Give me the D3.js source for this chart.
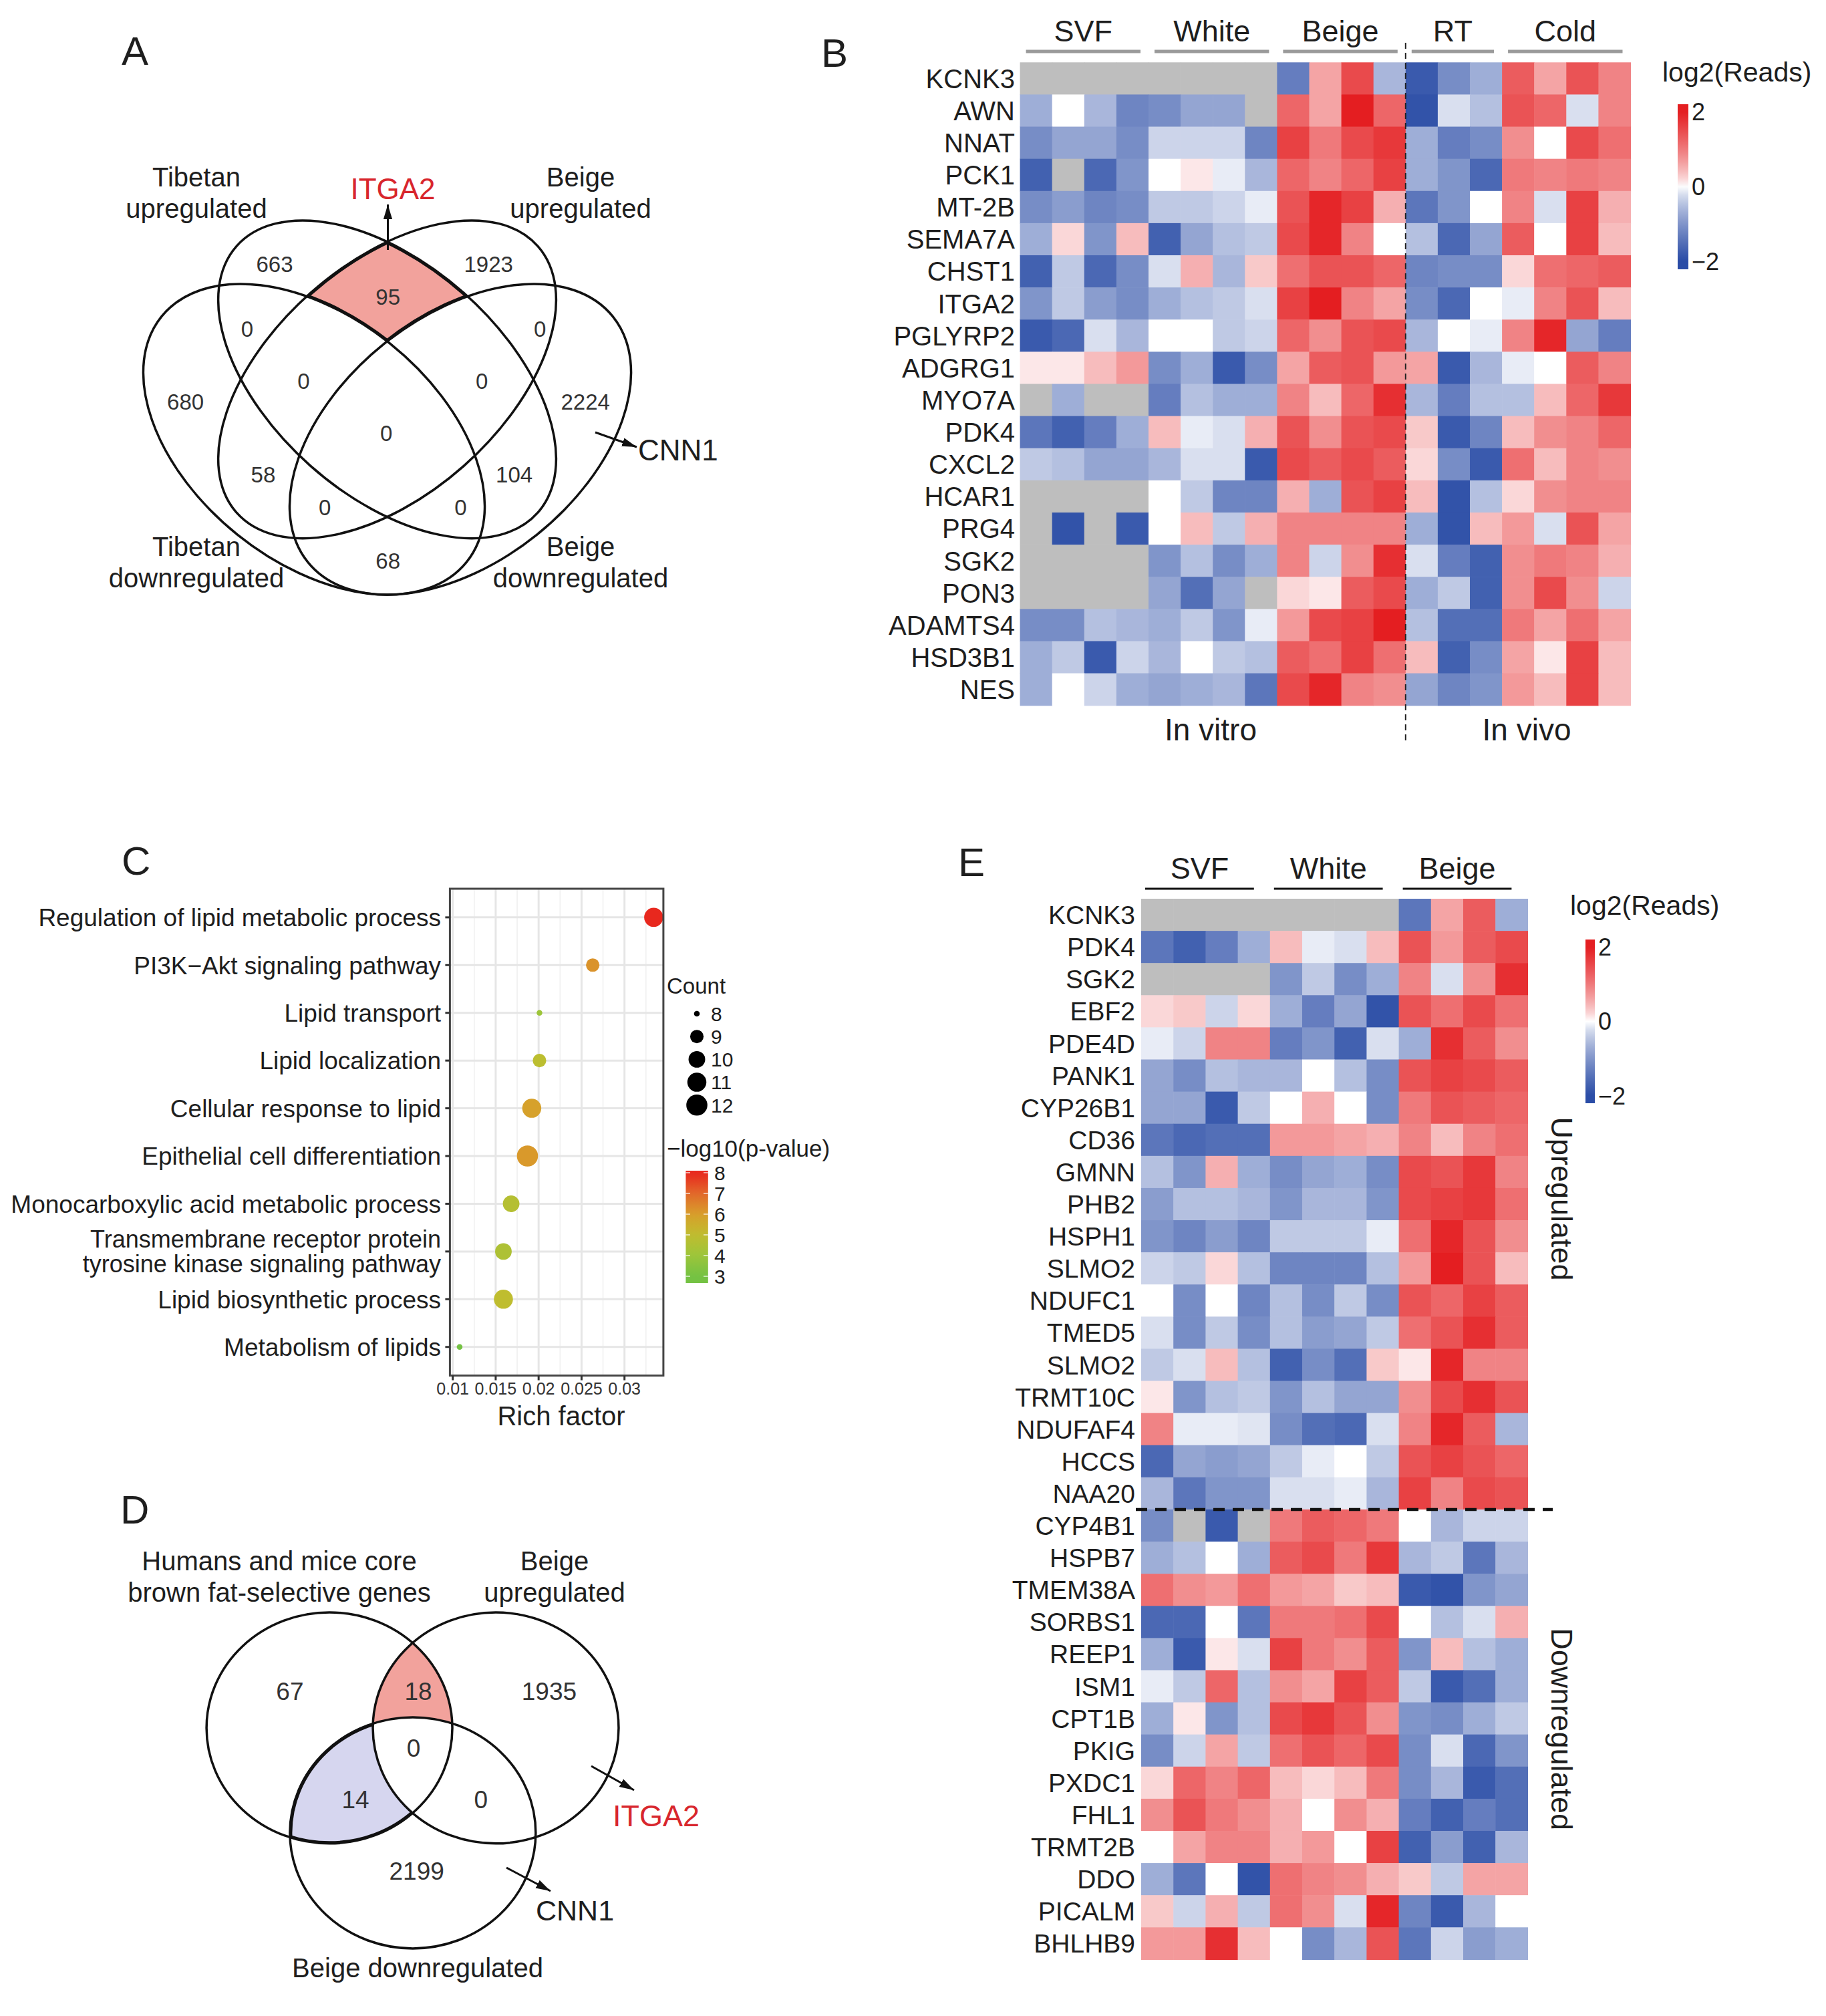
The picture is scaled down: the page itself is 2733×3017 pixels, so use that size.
<!DOCTYPE html>
<html><head><meta charset="utf-8">
<script src="https://cdn.jsdelivr.net/npm/d3@7"></script>
<style>body{margin:0;background:#fff} svg{display:block}</style>
</head><body><script>
// ===================== DATA =====================
// Panel A : four-set Venn (A = Tibetan down, B = Tibetan up, C = Beige up, D = Beige down)
const vennASetLabels = [["Tibetan","upregulated"],["Beige","upregulated"],["Tibetan","downregulated"],["Beige","downregulated"]];
const vennARegionSets = ["B","BC","C","AB","CD","ABC","BCD","A","ABCD","D","AC","BD","ACD","ABD","AD"];
const vennACounts     = [663, 95, 1923, 0, 0, 0, 0, 680, 0, 2224, 58, 104, 0, 0, 68];
const vennANotes = ["ITGA2","CNN1"];

// Panel D : three-set Venn (1 = core brown fat genes, 2 = Beige up, 3 = Beige down)
const vennDSetLabels = [["Humans and mice core","brown fat-selective genes"],["Beige","upregulated"],["Beige downregulated"]];
const vennDRegionSets = ["1","12","2","123","13","23","3"];
const vennDCounts     = [67, 18, 1935, 0, 14, 0, 2199];
const vennDNotes = ["ITGA2","CNN1"];

// Panel C : enrichment dot plot
const goTerms = ["Regulation of lipid metabolic process","PI3K\u2212Akt signaling pathway","Lipid transport","Lipid localization",
  "Cellular response to lipid","Epithelial cell differentiation","Monocarboxylic acid metabolic process",
  "Transmembrane receptor protein\ntyrosine kinase signaling pathway","Lipid biosynthetic process","Metabolism of lipids"];
const richFactor = [0.0334, 0.0263, 0.0201, 0.0201, 0.0192, 0.0187, 0.0168, 0.0159, 0.0159, 0.0108];
const geneCount  = [11, 9, 8, 9, 11, 12, 10, 10, 11, 8];
const negLogP    = [8.1, 6.2, 4.0, 4.9, 5.9, 6.1, 4.7, 4.5, 5.0, 2.7];
const richTicks  = [0.01, 0.015, 0.02, 0.025, 0.03];
const richTickLabels = ["0.01","0.015","0.02","0.025","0.03"];
const countBreaks = [8, 9, 10, 11, 12];
const pBreaks = [8, 7, 6, 5, 4, 3];

// Panel B : heatmap (null = not detected)
const genesB = ["KCNK3","AWN","NNAT","PCK1","MT-2B","SEMA7A","CHST1","ITGA2","PGLYRP2","ADGRG1",
  "MYO7A","PDK4","CXCL2","HCAR1","PRG4","SGK2","PON3","ADAMTS4","HSD3B1","NES"];
const groupsB = ["SVF","White","Beige","RT","Cold"];
const groupSizesB = [4, 4, 4, 3, 4];
const conditionsB = ["In vitro","In vivo"];
const valuesB = [
 [null,null,null,null, null,null,null,null, -1.3,0.6,1.5,-0.6, -1.8,-1.1,-0.7, 1.3,0.6,1.4,0.9],
 [-0.7,0,-0.6,-1.2, -1.1,-0.8,-0.8,null, 1.2,0.6,2.0,1.2, -1.9,-0.2,-0.5, 1.4,1.2,-0.2,0.9],
 [-1.1,-0.8,-0.8,-1.1, -0.3,-0.3,-0.3,-1.2, 1.6,1.0,1.5,1.7, -0.7,-1.3,-1.1, 0.8,0,1.5,1.1],
 [-1.7,null,-1.6,-1.0, 0,0.1,-0.1,-0.6, 1.2,0.9,1.2,1.6, -0.7,-1.0,-1.6, 1.0,0.9,1.0,0.9],
 [-1.1,-0.9,-1.2,-1.1, -0.4,-0.4,-0.3,-0.1, 1.4,1.9,1.6,0.5, -1.4,-1.0,0, 0.9,-0.2,1.6,0.5],
 [-0.7,0.2,-1.0,0.4, -1.7,-0.8,-0.5,-0.4, 1.5,1.9,0.9,0, -0.5,-1.6,-0.8, 1.3,0,1.6,0.4],
 [-1.7,-0.4,-1.6,-1.1, -0.2,0.5,-0.6,0.3, 1.1,1.4,1.4,1.2, -1.2,-1.1,-1.1, 0.2,1.1,1.2,1.3],
 [-1.0,-0.4,-0.9,-1.1, -0.7,-0.5,-0.4,-0.2, 1.6,2.0,0.9,0.6, -1.1,-1.6,0, -0.1,0.9,1.4,0.4],
 [-1.8,-1.6,-0.2,-0.6, 0,0,-0.4,-0.3, 1.2,0.8,1.4,1.5, -0.6,0,-0.1, 0.9,1.9,-0.8,-1.3],
 [0.1,0.1,0.4,0.7, -1.1,-0.7,-1.8,-1.1, 0.6,1.3,1.4,0.7, 0.6,-1.8,-0.6, -0.1,0,1.3,0.9],
 [null,-0.7,null,null, -1.3,-0.5,-0.7,-0.7, 0.9,0.4,1.2,1.8, -0.6,-1.3,-0.5, -0.5,0.4,1.2,1.7],
 [-1.4,-1.7,-1.3,-0.7, 0.4,-0.1,-0.2,0.5, 1.4,0.8,1.4,1.5, 0.3,-1.8,-1.2, 0.4,0.8,0.9,1.2],
 [-0.4,-0.5,-0.8,-0.8, -0.6,-0.2,-0.2,-1.8, 1.5,1.3,1.5,1.3, 0.2,-1.1,-1.8, 1.1,0.4,0.9,0.8],
 [null,null,null,null, 0,-0.4,-1.2,-1.2, 0.5,-0.7,1.4,1.6, 0.4,-1.9,-0.5, 0.2,0.8,0.9,0.9],
 [null,-1.9,null,-1.8, 0,0.4,-0.4,0.5, 0.9,0.9,0.9,0.9, -0.7,-1.9,0.4, 0.7,-0.2,1.4,0.6],
 [null,null,null,null, -1.0,-0.5,-1.1,-0.7, 0.9,-0.3,0.8,1.8, -0.2,-1.3,-1.7, 0.8,1.0,0.9,0.5],
 [null,null,null,null, -0.8,-1.5,-0.8,null, 0.2,0.1,1.3,1.5, -0.7,-0.4,-1.7, 0.8,1.5,0.8,-0.3],
 [-1.1,-1.1,-0.5,-0.6, -0.7,-0.4,-1.0,-0.1, 0.7,1.5,1.6,2.0, -0.5,-1.5,-1.5, 1.0,0.6,1.1,0.6],
 [-0.7,-0.4,-1.8,-0.3, -0.6,0,-0.4,-0.5, 1.3,1.1,1.6,1.1, 0.4,-1.7,-1.1, 0.6,0.1,1.6,0.4],
 [-0.7,0,-0.3,-0.7, -0.8,-0.7,-0.6,-1.4, 1.5,1.9,0.9,0.8, -0.8,-1.2,-1.0, 0.7,0.4,1.6,0.4]
];

// Panel E : heatmap
const genesE = ["KCNK3","PDK4","SGK2","EBF2","PDE4D","PANK1","CYP26B1","CD36","GMNN","PHB2","HSPH1","SLMO2",
  "NDUFC1","TMED5","SLMO2","TRMT10C","NDUFAF4","HCCS","NAA20",
  "CYP4B1","HSPB7","TMEM38A","SORBS1","REEP1","ISM1","CPT1B","PKIG","PXDC1","FHL1","TRMT2B","DDO","PICALM","BHLHB9"];
const groupsE = ["SVF","White","Beige"];
const groupSizesE = [4, 4, 4];
const directionE = ["Upregulated","Downregulated"];
const directionSizesE = [19, 14];
const valuesE = [
 [null,null,null,null, null,null,null,null, -1.4,0.6,1.3,-0.7],
 [-1.4,-1.7,-1.3,-0.7, 0.4,-0.1,-0.2,0.4, 1.4,0.7,1.3,1.5],
 [null,null,null,null, -1.0,-0.4,-1.1,-0.7, 0.9,-0.2,0.8,1.8],
 [0.2,0.3,-0.3,0.2, -0.7,-1.3,-0.8,-1.9, 1.4,1.1,1.5,1.1],
 [-0.1,-0.3,0.9,0.9, -1.3,-1.0,-1.7,-0.2, -0.7,1.8,1.3,0.8],
 [-0.8,-1.1,-0.5,-0.6, -0.6,0,-0.5,-1.1, 1.4,1.6,1.5,1.3],
 [-0.8,-0.8,-1.8,-0.4, 0,0.5,0,-1.1, 1.0,1.4,1.3,1.2],
 [-1.4,-1.6,-1.5,-1.5, 0.7,0.7,0.6,0.5, 0.9,0.4,0.9,1.1],
 [-0.5,-1.0,0.5,-0.7, -1.1,-0.8,-0.7,-1.1, 1.5,1.4,1.7,0.9],
 [-0.9,-0.5,-0.5,-0.6, -1.0,-0.6,-0.6,-1.0, 1.5,1.6,1.7,1.1],
 [-1.0,-1.2,-0.9,-1.2, -0.4,-0.4,-0.4,-0.1, 1.1,1.9,1.4,0.8],
 [-0.3,-0.4,0.2,-0.5, -1.2,-1.2,-1.2,-0.5, 0.7,2.0,1.4,0.4],
 [0,-1.1,0,-1.2, -0.5,-1.1,-0.4,-1.1, 1.4,1.2,1.6,1.3],
 [-0.2,-1.1,-0.4,-1.1, -0.5,-0.9,-0.8,-0.4, 1.1,1.4,1.8,1.3],
 [-0.4,-0.2,0.4,-0.5, -1.7,-1.1,-1.5,0.3, 0.1,1.9,0.9,0.9],
 [0.1,-1.0,-0.5,-0.4, -1.0,-0.5,-0.8,-0.8, 0.8,1.5,1.8,1.4],
 [0.9,-0.1,-0.1,-0.15, -1.1,-1.5,-1.6,-0.2, 0.9,1.9,1.3,-0.6],
 [-1.6,-0.8,-0.9,-0.8, -0.4,-0.1,0,-0.4, 1.4,1.6,1.4,1.2],
 [-0.6,-1.4,-1.0,-1.0, -0.2,-0.2,-0.1,-0.6, 1.6,0.9,1.5,1.4],
 [-1.1,null,-1.8,null, 1.0,1.3,1.2,1.0, 0,-0.6,-0.3,-0.3],
 [-0.7,-0.5,0,-0.7, 1.3,1.5,1.0,1.7, -0.6,-0.4,-1.4,-0.6],
 [1.1,0.8,0.7,1.1, 0.7,0.6,0.3,0.4, -1.8,-1.9,-1.0,-0.8],
 [-1.6,-1.6,0,-1.4, 1.0,1.0,1.1,1.5, 0,-0.5,-0.2,0.5],
 [-0.7,-1.8,0.1,-0.2, 1.6,1.0,0.8,1.3, -1.0,0.4,-0.5,-0.7],
 [-0.1,-0.4,1.2,-0.5, 0.8,0.6,1.6,1.3, -0.4,-1.8,-1.5,-0.7],
 [-0.7,0.1,-1.0,-0.5, 1.5,1.7,1.4,0.8, -1.0,-1.1,-0.7,-0.4],
 [-1.1,-0.3,0.6,-0.4, 1.1,1.4,1.2,1.5, -1.1,-0.2,-1.6,-1.0],
 [0.2,1.2,0.9,1.2, 0.4,0.2,0.4,1.0, -1.1,-0.6,-1.8,-1.5],
 [0.8,1.4,1.0,0.8, 0.5,0,0.8,0.5, -1.3,-1.7,-1.3,-1.5],
 [0,0.6,0.9,0.9, 0.5,0.7,0,1.6, -1.7,-0.9,-1.7,-0.6],
 [-0.7,-1.4,0,-1.9, 1.1,0.9,0.8,0.5, 0.3,-0.4,0.6,0.6],
 [0.3,-0.3,0.5,-0.4, 1.1,0.8,-0.2,1.9, -1.2,-1.8,-0.6,0],
 [0.7,0.7,1.8,0.4, 0,-1.1,-0.6,1.4, -1.4,-0.3,-0.9,-0.7]
];
const heatTicks = [2, 0, -2];
const heatTickLabels = ["2","0","\u22122"];

// ===================== SETUP =====================
const W = 2733, H = 3017;
const FONT = "'Liberation Sans', Arial, Helvetica, sans-serif";
const TXT = "#1e1e1e";
const svg = d3.select("body").append("svg").attr("width", W).attr("height", H).attr("font-family", FONT);
svg.append("rect").attr("width", W).attr("height", H).attr("fill", "#fff");
const defs = svg.append("defs");
defs.append("marker").attr("id","arrow").attr("viewBox","0 0 10 10").attr("refX",10).attr("refY",5)
  .attr("markerWidth",22).attr("markerHeight",22).attr("markerUnits","userSpaceOnUse").attr("orient","auto")
  .append("path").attr("d","M0,2 L10,5 L0,8 Z").attr("fill","#111");

function txt(sel, x, y, s, size, o = {}) {
  const t = sel.append("text").attr("x", x).attr("y", y).attr("font-size", size)
    .attr("fill", o.fill || TXT).attr("text-anchor", o.anchor || "start").text(s);
  if (o.dy) t.attr("dy", o.dy);
  return t;
}
function maskExcluding(id, shapes) {
  const m = defs.append("mask").attr("id", id).attr("maskUnits","userSpaceOnUse")
    .attr("x",0).attr("y",0).attr("width",W).attr("height",H);
  m.append("rect").attr("width",W).attr("height",H).attr("fill","#fff");
  shapes.forEach(f => f(m).attr("fill","#000"));
}
function clipWith(id, shape) { shape(defs.append("clipPath").attr("id", id)); }

// Panel letters
[["A",182,97],["B",1229,100],["C",182,1309],["D",180,2280],["E",1434,1311]]
  .forEach(([l,x,y]) => txt(svg, x, y, l, 60));

// ===================== PANEL A =====================
const AK = 836;
const ax = d3.scaleLinear().domain([0,1]).range([161, 161 + AK]);
const ay = d3.scaleLinear().domain([0,1]).range([1045.8, 1045.8 - AK]);
const ellA = {
  A:{cx:0.3696, cy:0.4645, a:0.3505, b:0.2189, rot:38.8},
  B:{cx:0.5006, cy:0.5718, a:0.3600, b:0.2069, rot:41.5},
  C:{cx:0.5006, cy:0.5718, a:0.3600, b:0.2069, rot:-41.5},
  D:{cx:0.6316, cy:0.4645, a:0.3505, b:0.2189, rot:-38.8}};
const ellAShape = k => sel => sel.append("ellipse").attr("rx", ellA[k].a*AK).attr("ry", ellA[k].b*AK)
  .attr("transform", `translate(${ax(ellA[k].cx)},${ay(ellA[k].cy)}) rotate(${ellA[k].rot})`);
clipWith("clipAB", ellAShape("B"));
clipWith("clipAC", ellAShape("C"));
maskExcluding("maskAnotAD", [ellAShape("A"), ellAShape("D")]);
const gA = svg.append("g");
const hlA = gA.append("g").attr("clip-path","url(#clipAC)").append("g").attr("clip-path","url(#clipAB)")
  .append("g").attr("mask","url(#maskAnotAD)");
hlA.append("rect").attr("x",0).attr("y",0).attr("width",1200).attr("height",1100).attr("fill","#F2A29C");
["A","B","C","D"].forEach(k => ellAShape(k)(hlA).attr("fill","none").attr("stroke","#111").attr("stroke-width",7));
["A","B","C","D"].forEach(k => ellAShape(k)(gA).attr("fill","none").attr("stroke","#111").attr("stroke-width",3.5));

const vennAPos = {B:[0.299,0.778], BC:[0.502,0.720], C:[0.682,0.778], AB:[0.250,0.662], CD:[0.774,0.662],
  ABC:[0.351,0.569], BCD:[0.670,0.569], A:[0.1395,0.5316], ABCD:[0.499,0.476], D:[0.8555,0.5316],
  AC:[0.2786,0.401], BD:[0.728,0.401], ACD:[0.389,0.343], ABD:[0.632,0.343], AD:[0.502,0.247]};
vennARegionSets.forEach((r,i) => txt(gA, ax(vennAPos[r][0]), ay(vennAPos[r][1]), vennACounts[i], 33,
  {anchor:"middle", dy:"0.36em", fill:"#333"}));
const vennALabelPos = [[294,279],[869,279],[294,832],[869,832]];
vennASetLabels.forEach((lines,i) => lines.forEach((l,j) =>
  txt(gA, vennALabelPos[i][0], vennALabelPos[i][1] + j*47, l, 40, {anchor:"middle"})));
gA.append("line").attr("x1",580.5).attr("y1",374).attr("x2",580.5).attr("y2",306)
  .attr("stroke","#111").attr("stroke-width",3).attr("marker-end","url(#arrow)");
txt(gA, 588, 298, vennANotes[0], 44, {anchor:"middle", fill:"#D8262D"});
gA.append("line").attr("x1",891).attr("y1",647).attr("x2",953).attr("y2",669)
  .attr("stroke","#111").attr("stroke-width",3).attr("marker-end","url(#arrow)");
txt(gA, 955, 689, vennANotes[1], 44);

// ===================== PANEL B =====================
const nColB = d3.sum(groupSizesB);
const bx = d3.scaleBand().domain(d3.range(nColB)).range([1526.6, 2440.5]);
const by = d3.scaleBand().domain(d3.range(genesB.length)).range([93.3, 1055.7]);
const heatInterp = d3.piecewise(d3.interpolateRgb, ["#2A4CA6", "#FFFFFF", "#E41E21"]);
const heat = d3.scaleDivergingPow(heatInterp).exponent(0.75).domain([-2, 0, 2]).clamp(true);
const NA = "#BEBEBE";
const gB = svg.append("g");
valuesB.forEach((row,i) => row.forEach((v,j) => gB.append("rect")
  .attr("x", bx(j)).attr("y", by(i)).attr("width", bx.bandwidth()+0.6).attr("height", by.bandwidth()+0.6)
  .attr("fill", v === null ? NA : heat(v))));
genesB.forEach((g,i) => txt(gB, 1519, by(i) + by.bandwidth()/2, g, 40, {anchor:"end", dy:"0.36em"}));
let cum = 0;
groupsB.forEach((g,k) => {
  const x0 = bx(cum), x1 = bx(cum + groupSizesB[k] - 1) + bx.bandwidth();
  cum += groupSizesB[k];
  const b0 = x0 + 9, b1 = x1 - 12;
  gB.append("line").attr("x1",b0).attr("x2",b1).attr("y1",77).attr("y2",77).attr("stroke","#9A9A9A").attr("stroke-width",5);
  txt(gB, (b0+b1)/2, 62, g, 45, {anchor:"middle"});
});
const splitB = bx(12);
gB.append("line").attr("x1",splitB).attr("x2",splitB).attr("y1",64).attr("y2",1112)
  .attr("stroke","#222").attr("stroke-width",2).attr("stroke-dasharray","9,6");
txt(gB, 1812, 1108, conditionsB[0], 46, {anchor:"middle"});
txt(gB, 2285, 1108, conditionsB[1], 46, {anchor:"middle"});

function heatLegend(sel, id, x, w, top, bottom, yTop2, yBot2, titleX, titleY) {
  const ly = d3.scaleLinear().domain([2, -2]).range([yTop2, yBot2]);
  const vTop = ly.invert(top), vBot = ly.invert(bottom);
  const grad = defs.append("linearGradient").attr("id", id).attr("x1",0).attr("y1",0).attr("x2",0).attr("y2",1);
  d3.range(0, 21).forEach(i => { const v = vTop + (vBot - vTop)*i/20;
    grad.append("stop").attr("offset", i/20).attr("stop-color", heat(v)); });
  sel.append("rect").attr("x",x).attr("y",top).attr("width",w).attr("height",bottom-top).attr("fill",`url(#${id})`);
  txt(sel, titleX, titleY, "log2(Reads)", 41);
  heatTicks.forEach((t,i) => txt(sel, x + w + 5, ly(t), heatTickLabels[i], 36, {dy:"0.36em"}));
}
heatLegend(gB, "gradB", 2511, 16, 156, 403, 167, 391, 2488, 122);

// ===================== PANEL C =====================
const gC = svg.append("g");
const cLeft = 673.4, cRight = 992.9, cTop = 1330, cBottom = 2058.6;
const ext = d3.extent(richFactor), pad = (ext[1]-ext[0])*0.05;
const cxs = d3.scaleLinear().domain([ext[0]-pad, ext[1]+pad]).range([cLeft, cRight]);
const cys = d3.scalePoint().domain(goTerms).range([cTop, cBottom]).padding(0.6);
const minorTicks = richTicks.map(t => t + 0.0025).filter(t => t < cxs.domain()[1]);
gC.append("rect").attr("x",cLeft).attr("y",cTop).attr("width",cRight-cLeft).attr("height",cBottom-cTop).attr("fill","#fff");
minorTicks.forEach(t => gC.append("line").attr("x1",cxs(t)).attr("x2",cxs(t)).attr("y1",cTop).attr("y2",cBottom)
  .attr("stroke","#F0F0F0").attr("stroke-width",1.6));
richTicks.forEach(t => gC.append("line").attr("x1",cxs(t)).attr("x2",cxs(t)).attr("y1",cTop).attr("y2",cBottom)
  .attr("stroke","#E6E6E6").attr("stroke-width",3));
goTerms.forEach(t => gC.append("line").attr("x1",cLeft).attr("x2",cRight).attr("y1",cys(t)).attr("y2",cys(t))
  .attr("stroke","#E6E6E6").attr("stroke-width",3));
const pColor = d3.scaleLinear().domain([3,4,5,6,7,8])
  .range(["#74C243","#9DC53A","#BFBD2F","#D89E2B","#E2682A","#E8281E"]).clamp(true);
const dotDiam = c => d3.scaleLinear().domain([0,1]).range([8.6, 31.6])(Math.sqrt((c - 8)/4));
goTerms.forEach((t,i) => gC.append("circle").attr("cx", cxs(richFactor[i])).attr("cy", cys(t))
  .attr("r", dotDiam(geneCount[i])/2).attr("fill", pColor(negLogP[i])));
gC.append("rect").attr("x",cLeft).attr("y",cTop).attr("width",cRight-cLeft).attr("height",cBottom-cTop)
  .attr("fill","none").attr("stroke","#444").attr("stroke-width",3);
goTerms.forEach(t => {
  gC.append("line").attr("x1",cLeft-7).attr("x2",cLeft).attr("y1",cys(t)).attr("y2",cys(t)).attr("stroke","#333").attr("stroke-width",3);
  const lines = t.split("\n");
  const fs = lines.length > 1 ? 36 : 37;
  lines.forEach((l,j) => txt(gC, 660, cys(t) + (j - (lines.length-1)/2)*37, l, fs, {anchor:"end", dy:"0.36em"}));
});
richTicks.forEach((t,i) => {
  gC.append("line").attr("x1",cxs(t)).attr("x2",cxs(t)).attr("y1",cBottom).attr("y2",cBottom+7).attr("stroke","#333").attr("stroke-width",3);
  txt(gC, cxs(t), 2087, richTickLabels[i], 25, {anchor:"middle", fill:"#333"});
});
txt(gC, 840, 2133, "Rich factor", 40, {anchor:"middle"});
txt(gC, 998, 1487, "Count", 33);
countBreaks.forEach((c,i) => {
  const y = 1517 + i*34.2;
  gC.append("circle").attr("cx",1043).attr("cy",y).attr("r",dotDiam(c)/2).attr("fill","#000");
  txt(gC, 1064, y, c, 30, {dy:"0.36em"});
});
txt(gC, 998, 1731, "\u2212log10(p-value)", 35);
const py = d3.scaleLinear().domain([8, 3]).range([1755, 1910]);
const pTop = 1752, pBot = 1920;
const pgrad = defs.append("linearGradient").attr("id","gradP").attr("x1",0).attr("y1",0).attr("x2",0).attr("y2",1);
d3.range(0,21).forEach(i => { const v = py.invert(pTop + (pBot-pTop)*i/20);
  pgrad.append("stop").attr("offset", i/20).attr("stop-color", pColor(v)); });
gC.append("rect").attr("x",1026.4).attr("y",pTop).attr("width",33.4).attr("height",pBot-pTop).attr("fill","url(#gradP)");
pBreaks.forEach(b => {
  [[1026.4,1033],[1053,1059.8]].forEach(([a,c]) => gC.append("line").attr("x1",a).attr("x2",c)
    .attr("y1",py(b)).attr("y2",py(b)).attr("stroke","#fff").attr("stroke-width",1.5).attr("opacity",0.8));
  txt(gC, 1069, py(b), b, 30, {dy:"0.36em"});
});

// ===================== PANEL D =====================
const dxs = d3.scaleLinear().domain([0,1]).range([300, 950]);
const dys = d3.scaleLinear().domain([0,1]).range([2900, 2289]);
const DR = 0.283;
const circD = [{cx:0.297, cy:0.514}, {cx:0.680, cy:0.514}, {cx:0.489, cy:0.257}];
const circDShape = k => sel => sel.append("ellipse").attr("cx", dxs(circD[k].cx)).attr("cy", dys(circD[k].cy))
  .attr("rx", dxs(DR) - dxs(0)).attr("ry", dys(0) - dys(DR));
clipWith("clipD1", circDShape(0));
clipWith("clipD2", circDShape(1));
clipWith("clipD3", circDShape(2));
maskExcluding("maskDnot3", [circDShape(2)]);
maskExcluding("maskDnot2", [circDShape(1)]);
const gD = svg.append("g");
gD.append("g").attr("clip-path","url(#clipD1)").append("g").attr("clip-path","url(#clipD2)")
  .append("g").attr("mask","url(#maskDnot3)")
  .append("rect").attr("x",0).attr("y",2200).attr("width",1200).attr("height",817).attr("fill","#F2A29C");
const lav = gD.append("g").attr("clip-path","url(#clipD1)").append("g").attr("clip-path","url(#clipD3)")
  .append("g").attr("mask","url(#maskDnot2)");
lav.append("rect").attr("x",0).attr("y",2200).attr("width",1200).attr("height",817).attr("fill","#D6D6EF");
[0,2].forEach(k => circDShape(k)(lav).attr("fill","none").attr("stroke","#111").attr("stroke-width",7));
[0,1,2].forEach(k => circDShape(k)(gD).attr("fill","none").attr("stroke","#111").attr("stroke-width",3.5));
const vennDPos = {"1":[0.206,0.604], "12":[0.5015,0.604], "2":[0.803,0.604], "123":[0.491,0.465],
  "13":[0.357,0.340], "23":[0.646,0.340], "3":[0.498,0.165]};
vennDRegionSets.forEach((r,i) => txt(gD, dxs(vennDPos[r][0]), dys(vennDPos[r][1]), vennDCounts[i], 37,
  {anchor:"middle", dy:"0.36em", fill:"#333"}));
const vennDLabelPos = [[418,2350],[830,2350],[625,2959]];
vennDSetLabels.forEach((lines,i) => lines.forEach((l,j) =>
  txt(gD, vennDLabelPos[i][0], vennDLabelPos[i][1] + j*47, l, 40, {anchor:"middle"})));
gD.append("line").attr("x1",885).attr("y1",2643).attr("x2",949).attr("y2",2679)
  .attr("stroke","#111").attr("stroke-width",3).attr("marker-end","url(#arrow)");
txt(gD, 917, 2733, vennDNotes[0], 45, {fill:"#D8262D"});
gD.append("line").attr("x1",758).attr("y1",2795).attr("x2",824).attr("y2",2830)
  .attr("stroke","#111").attr("stroke-width",3).attr("marker-end","url(#arrow)");
txt(gD, 802, 2874, vennDNotes[1], 43);

// ===================== PANEL E =====================
const nColE = d3.sum(groupSizesE);
const ex = d3.scaleBand().domain(d3.range(nColE)).range([1708, 2286.4]);
const ey = d3.scaleBand().domain(d3.range(genesE.length)).range([1345, 2932.4]);
const gE = svg.append("g");
valuesE.forEach((row,i) => row.forEach((v,j) => gE.append("rect")
  .attr("x", ex(j)).attr("y", ey(i)).attr("width", ex.bandwidth()+0.6).attr("height", ey.bandwidth()+0.6)
  .attr("fill", v === null ? NA : heat(v))));
genesE.forEach((g,i) => txt(gE, 1699, ey(i) + ey.bandwidth()/2, g, 39, {anchor:"end", dy:"0.36em"}));
cum = 0;
groupsE.forEach((g,k) => {
  const x0 = ex(cum), x1 = ex(cum + groupSizesE[k] - 1) + ex.bandwidth();
  cum += groupSizesE[k];
  const b0 = x0 + 6, b1 = x1 - 24;
  gE.append("line").attr("x1",b0).attr("x2",b1).attr("y1",1330).attr("y2",1330).attr("stroke","#111").attr("stroke-width",3);
  txt(gE, (b0+b1)/2, 1315, g, 45, {anchor:"middle"});
});
const splitE = ey(directionSizesE[0]);
gE.append("line").attr("x1",1700).attr("x2",2324).attr("y1",splitE).attr("y2",splitE)
  .attr("stroke","#111").attr("stroke-width",4.5).attr("stroke-dasharray","17,12");
let rcum = 0;
directionE.forEach((d,k) => {
  const y0 = ey(rcum), y1 = ey(rcum + directionSizesE[k] - 1) + ey.bandwidth();
  rcum += directionSizesE[k];
  gE.append("text").attr("transform", `translate(2322,${(y0+y1)/2 - 8}) rotate(90)`)
    .attr("font-size",45).attr("fill",TXT).attr("text-anchor","middle").text(d);
});
heatLegend(gE, "gradE", 2373, 14, 1406, 1651, 1417, 1640, 2350, 1369);
</script></body></html>
